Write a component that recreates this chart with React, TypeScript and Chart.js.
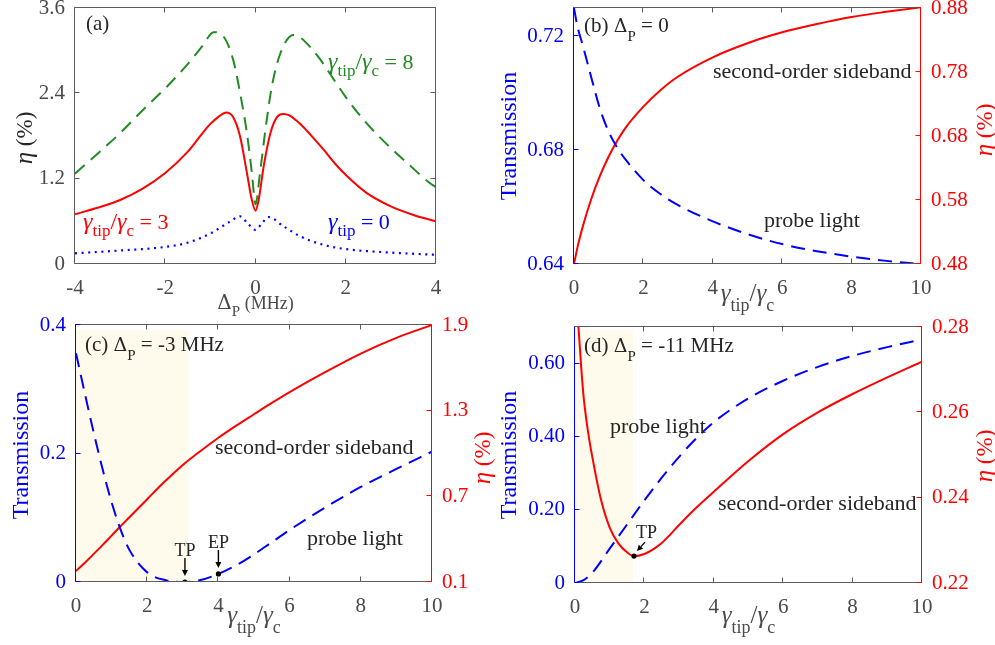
import React, { useEffect, useRef } from "react";
import { Chart, registerables } from "chart.js";

Chart.register(...registerables);

// ---------------- data ----------------
// (a) eta vs Delta_P
const aXTicks = [-4, -2, 0, 2, 4];
const aXTickLabels = ["-4", "-2", "0", "2", "4"];
const aYTicks = [0, 1.2, 2.4, 3.6];
const aYTickLabels = ["0", "1.2", "2.4", "3.6"];
const aGamma8X = [-4, -3.45, -3, -2.49, -1.97, -1.45, -1.16, -0.93, -0.71, -0.49, -0.34, -0.19, -0.08, 0, 0.1, 0.21, 0.36, 0.55, 0.84, 1.0, 1.2, 1.43, 1.73, 2.02, 2.46, 3, 3.43, 3.84, 4];
const aGamma8Y = [1.27, 1.58, 1.84, 2.17, 2.49, 2.85, 3.08, 3.26, 3.2, 2.86, 2.4, 1.84, 1.28, 0.84, 1.28, 1.84, 2.49, 2.96, 3.22, 3.18, 3.06, 2.88, 2.6, 2.33, 1.98, 1.63, 1.38, 1.15, 1.08];
const aGamma3X = [-4, -3.5, -3, -2.5, -2, -1.5, -1.2, -1, -0.8, -0.65, -0.5, -0.34, -0.19, -0.08, 0, 0.07, 0.18, 0.33, 0.48, 0.62, 0.75, 0.9, 1.07, 1.3, 1.52, 1.75, 2.02, 2.46, 3, 3.5, 4];
const aGamma3Y = [0.7, 0.79, 0.9, 1.06, 1.28, 1.58, 1.82, 1.97, 2.08, 2.13, 2.07, 1.79, 1.28, 0.9, 0.75, 0.9, 1.37, 1.84, 2.07, 2.11, 2.09, 2.02, 1.92, 1.76, 1.6, 1.42, 1.24, 1.0, 0.81, 0.69, 0.6];
const aGamma0X = [-4, -3, -2, -1.5, -1, -0.58, -0.34, -0.16, 0, 0.14, 0.29, 0.62, 0.99, 1.5, 2, 3, 4];
const aGamma0Y = [0.15, 0.19, 0.24, 0.3, 0.43, 0.59, 0.67, 0.56, 0.48, 0.57, 0.66, 0.53, 0.39, 0.27, 0.21, 0.16, 0.13];

// shared x ticks for (b)(c)(d)
const gXTicks = [0, 2, 4, 6, 8, 10];
const gXTickLabels = ["0", "2", "4", "6", "8", "10"];

// (b) Delta_P = 0
const bX = [0, 0.1, 0.25, 0.5, 0.75, 1, 1.25, 1.5, 2, 2.5, 3, 4, 5, 6, 7, 8, 9, 10];
const bProbe = [0.73, 0.7235, 0.717, 0.7055, 0.6945, 0.6865, 0.6808, 0.6765, 0.6695, 0.6645, 0.6607, 0.655, 0.6505, 0.647, 0.6445, 0.6426, 0.6411, 0.64];
const bSideband = [0.48, 0.506, 0.538, 0.582, 0.618, 0.648, 0.673, 0.694, 0.726, 0.752, 0.773, 0.803, 0.825, 0.842, 0.855, 0.866, 0.874, 0.881];
const bLeftTicks = [0.64, 0.68, 0.72];
const bLeftTickLabels = ["0.64", "0.68", "0.72"];
const bRightTicks = [0.48, 0.58, 0.68, 0.78, 0.88];
const bRightTickLabels = ["0.48", "0.58", "0.68", "0.78", "0.88"];

// (c) Delta_P = -3 MHz
const cX = [0, 0.25, 0.5, 0.75, 1, 1.25, 1.5, 2, 2.5, 3, 3.5, 4, 4.5, 5, 5.5, 6, 7, 8, 9, 10];
const cProbe = [0.356, 0.293, 0.232, 0.175, 0.124, 0.082, 0.05, 0.015, 0.003, 0.0, 0.003, 0.0125, 0.026, 0.043, 0.062, 0.081, 0.116, 0.148, 0.176, 0.203];
const cSideband = [0.177, 0.235, 0.297, 0.36, 0.425, 0.49, 0.553, 0.68, 0.805, 0.92, 1.018, 1.11, 1.195, 1.275, 1.354, 1.43, 1.57, 1.7, 1.81, 1.9];
const cMarkX = [3.06, 4];
const cMarkY = [0, 0.0125];
const cMarkLabels = ["TP", "EP"];
const cShadeX = [0, 3.17];
const cShadeY = [0.392, 0.392];
const cLeftTicks = [0, 0.2, 0.4];
const cLeftTickLabels = ["0", "0.2", "0.4"];
const cRightTicks = [0.1, 0.7, 1.3, 1.9];
const cRightTickLabels = ["0.1", "0.7", "1.3", "1.9"];

// (d) Delta_P = -11 MHz
const dProbeX = [0, 0.25, 0.5, 1, 1.5, 2, 2.5, 3, 3.5, 4, 5, 6, 7, 8, 9, 10];
const dProbe = [0, 0.008, 0.028, 0.094, 0.16, 0.226, 0.288, 0.345, 0.396, 0.44, 0.505, 0.553, 0.591, 0.621, 0.645, 0.666];
const dSideX = [0.1, 0.175, 0.25, 0.375, 0.5, 0.75, 1, 1.25, 1.5, 1.7, 2, 2.25, 2.5, 2.75, 3, 3.5, 4, 5, 6, 7, 8, 9, 10];
const dSideband = [0.28, 0.271, 0.2635, 0.2555, 0.2495, 0.2395, 0.233, 0.2293, 0.2272, 0.2263, 0.2268, 0.2279, 0.2294, 0.2314, 0.2336, 0.2377, 0.2414, 0.2486, 0.2549, 0.26, 0.2643, 0.2682, 0.2719];
const dMarkX = [1.7];
const dMarkY = [0.2263];
const dShadeX = [0, 1.68];
const dShadeY = [0.692, 0.692];
const dLeftTicks = [0, 0.2, 0.4, 0.6];
const dLeftTickLabels = ["0", "0.20", "0.40", "0.60"];
const dRightTicks = [0.22, 0.24, 0.26, 0.28];
const dRightTickLabels = ["0.22", "0.24", "0.26", "0.28"];

// ---------------- style ----------------
const SERIF = "'Liberation Serif', 'Times New Roman', Times, serif";
const SYMBOL = "'DejaVu Serif', serif";
const INK = "#262626";
const AXIS = "#5c5c5c";
const TICKTXT = "#4a4a4a";
const BLUE = "#0000ff";
const RED = "#ff0000";
const GREEN = "#238b23";
const SHADE = "#fefbec";
const TICK_FONT = 21;

const W = 995;
const H = 645;
const WL = 70;
const WR = 70;
const HX = 40;

type Area = { L: number; R: number; T: number; B: number };
const areaA: Area = { L: 75, R: 436, T: 8, B: 264 };
const areaB: Area = { L: 574, R: 921, T: 8, B: 264 };
const areaC: Area = { L: 76, R: 432, T: 325, B: 582 };
const areaD: Area = { L: 575, R: 922, T: 327, B: 583 };

const pts = (xs: number[], ys: number[]) => xs.map((x, i) => ({ x, y: ys[i] }));

type Seg = { t: string; size: number; dy?: number; italic?: boolean; family?: string };

function segFont(s: Seg) {
  return `${s.italic ? "italic " : ""}${s.size}px ${s.family || SERIF}`;
}

function drawRich(ctx: CanvasRenderingContext2D, segs: Seg[], x: number, y: number, align: string, color: string) {
  ctx.save();
  ctx.fillStyle = color;
  ctx.textBaseline = "alphabetic";
  ctx.textAlign = "left";
  let w = 0;
  for (const s of segs) {
    ctx.font = segFont(s);
    w += ctx.measureText(s.t).width;
  }
  let cx = align === "center" ? x - w / 2 : align === "right" ? x - w : x;
  for (const s of segs) {
    ctx.font = segFont(s);
    ctx.fillText(s.t, cx, y + (s.dy || 0));
    cx += ctx.measureText(s.t).width;
  }
  ctx.restore();
}

function drawRotated(ctx: CanvasRenderingContext2D, segs: Seg[], cx: number, cy: number, color: string) {
  ctx.save();
  ctx.translate(cx, cy);
  ctx.rotate(-Math.PI / 2);
  drawRich(ctx, segs, 0, segs[0].size * 0.33, "center", color);
  ctx.restore();
}

function gammaRatio(size: number, sub: number, dy: number): Seg[] {
  return [
    { t: "γ", size, italic: true },
    { t: "tip", size: sub, dy },
    { t: "/", size },
    { t: "γ", size, italic: true },
    { t: "c", size: sub, dy },
  ];
}

function arrow(ctx: CanvasRenderingContext2D, x1: number, y1: number, x2: number, y2: number) {
  const a = Math.atan2(y2 - y1, x2 - x1);
  const hl = 6;
  const hw = 3;
  const c = Math.cos(a);
  const s = Math.sin(a);
  ctx.save();
  ctx.strokeStyle = "#000";
  ctx.fillStyle = "#000";
  ctx.lineWidth = 1.4;
  ctx.beginPath();
  ctx.moveTo(x1, y1);
  ctx.lineTo(x2 - hl * c, y2 - hl * s);
  ctx.stroke();
  ctx.beginPath();
  ctx.moveTo(x2, y2);
  ctx.lineTo(x2 - hl * c + hw * s, y2 - hl * s - hw * c);
  ctx.lineTo(x2 - hl * c - hw * s, y2 - hl * s + hw * c);
  ctx.closePath();
  ctx.fill();
  ctx.restore();
}

function drawFrame(
  chart: any,
  xTicks: number[],
  leftTicks: number[],
  rightTicks: number[],
  leftColor: string,
  rightColor: string,
  rightId: string
) {
  const ctx: CanvasRenderingContext2D = chart.ctx;
  const { left, right, top, bottom } = chart.chartArea;
  const xs = chart.scales.x;
  const yl = chart.scales.y;
  const yr = chart.scales[rightId];
  const l = Math.round(left) - 0.5;
  const r = Math.round(right) - 0.5;
  const t = Math.round(top) - 0.5;
  const b = Math.round(bottom) - 0.5;
  const TL = 5;
  ctx.save();
  ctx.lineWidth = 1;
  ctx.strokeStyle = AXIS;
  ctx.beginPath();
  ctx.moveTo(l, t);
  ctx.lineTo(r, t);
  ctx.moveTo(l, b);
  ctx.lineTo(r, b);
  for (const v of xTicks) {
    const px = Math.round(xs.getPixelForValue(v)) - 0.5;
    ctx.moveTo(px, b);
    ctx.lineTo(px, b - TL);
    ctx.moveTo(px, t);
    ctx.lineTo(px, t + TL);
  }
  ctx.stroke();
  ctx.strokeStyle = leftColor;
  ctx.beginPath();
  ctx.moveTo(l, t);
  ctx.lineTo(l, b);
  for (const v of leftTicks) {
    const py = Math.round(yl.getPixelForValue(v)) - 0.5;
    ctx.moveTo(l, py);
    ctx.lineTo(l + TL, py);
  }
  ctx.stroke();
  ctx.strokeStyle = rightColor;
  ctx.beginPath();
  ctx.moveTo(r, t);
  ctx.lineTo(r, b);
  for (const v of rightTicks) {
    const py = Math.round(yr.getPixelForValue(v)) - 0.5;
    ctx.moveTo(r, py);
    ctx.lineTo(r - TL, py);
  }
  ctx.stroke();
  ctx.restore();
}

function xScale(min: number, max: number, ticks: number[], labels: string[]) {
  return {
    type: "linear",
    position: "bottom",
    min,
    max,
    afterBuildTicks: (s: any) => {
      s.ticks = ticks.map((v) => ({ value: v }));
    },
    afterFit: (s: any) => {
      s.height = HX;
      s.paddingLeft = 0;
      s.paddingRight = 0;
    },
    grid: { display: false, drawTicks: false },
    border: { display: false },
    ticks: {
      color: TICKTXT,
      font: { family: SERIF, size: TICK_FONT },
      padding: 12,
      maxRotation: 0,
      autoSkip: false,
      callback: (_v: any, i: number) => labels[i],
    },
  };
}

function yScale(min: number, max: number, ticks: number[], labels: string[], color: string, position: string) {
  return {
    type: "linear",
    position,
    min,
    max,
    afterBuildTicks: (s: any) => {
      s.ticks = ticks.map((v) => ({ value: v }));
    },
    afterFit: (s: any) => {
      s.width = position === "left" ? WL : WR;
      s.paddingTop = 0;
      s.paddingBottom = 0;
    },
    grid: { display: false, drawTicks: false },
    border: { display: false },
    ticks: {
      color,
      font: { family: SERIF, size: TICK_FONT },
      padding: 10,
      autoSkip: false,
      callback: (_v: any, i: number) => labels[i],
    },
  };
}

function padding(a: Area, hasRight: boolean) {
  return {
    left: a.L - WL,
    right: W - a.R - (hasRight ? WR : 0),
    top: a.T,
    bottom: H - a.B - HX,
  };
}

function lineDs(data: any[], color: string, dash: number[], yAxisID: string, width = 2) {
  return {
    data,
    borderColor: color,
    borderWidth: width,
    borderDash: dash,
    borderCapStyle: "butt",
    pointRadius: 0,
    cubicInterpolationMode: "monotone",
    fill: false,
    yAxisID,
    order: 1,
  };
}

function markDs(data: any[], yAxisID: string) {
  return {
    data,
    showLine: false,
    pointRadius: 2.6,
    pointBackgroundColor: "#000",
    pointBorderWidth: 0,
    yAxisID,
    order: 0,
  };
}

function shadeDs(data: any[]) {
  return {
    data,
    borderWidth: 0,
    pointRadius: 0,
    backgroundColor: SHADE,
    fill: "origin",
    tension: 0,
    yAxisID: "y",
    order: 5,
  };
}

function baseOptions(a: Area, hasRight: boolean, scales: any) {
  return {
    responsive: false,
    maintainAspectRatio: false,
    devicePixelRatio: 1,
    animation: false,
    events: [],
    layout: { padding: padding(a, hasRight), autoPadding: false },
    plugins: { legend: { display: false }, tooltip: { enabled: false }, title: { display: false } },
    scales,
  };
}

const eta: Seg[] = [
  { t: "η", size: 25, italic: true },
  { t: " (%)", size: 23 },
];
const transmission: Seg[] = [{ t: "Transmission", size: 24 }];

function panelA(): any {
  return {
    type: "line",
    data: {
      datasets: [
        lineDs(pts(aGamma8X, aGamma8Y), GREEN, [13, 8], "y"),
        lineDs(pts(aGamma3X, aGamma3Y), RED, [], "y"),
        lineDs(pts(aGamma0X, aGamma0Y), BLUE, [2, 4.6], "y", 2.2),
      ],
    },
    options: baseOptions(areaA, false, {
      x: xScale(-4, 4, aXTicks, aXTickLabels),
      y: yScale(0, 3.6, aYTicks, aYTickLabels, TICKTXT, "left"),
    }),
    plugins: [
      {
        id: "decorA",
        afterDatasetsDraw(chart: any) {
          const ctx = chart.ctx;
          drawFrame(chart, aXTicks, aYTicks, aYTicks, AXIS, AXIS, "y");
          drawRich(ctx, [{ t: "(a)", size: 21 }], 86, 30, "left", INK);
          drawRich(ctx, [...gammaRatio(24, 17, 7), { t: " = 8", size: 22 }], 328, 69, "left", GREEN);
          drawRich(ctx, [...gammaRatio(24, 17, 7), { t: " = 3", size: 22 }], 83, 229, "left", RED);
          drawRich(
            ctx,
            [
              { t: "γ", size: 24, italic: true },
              { t: "tip", size: 17, dy: 7 },
              { t: " = 0", size: 22 },
            ],
            328,
            229,
            "left",
            BLUE
          );
          const { left, right } = chart.chartArea;
          drawRich(
            ctx,
            [
              { t: "Δ", size: 20, family: SYMBOL },
              { t: "P", size: 15, dy: 7 },
              { t: " (MHz)", size: 18 },
            ],
            (left + right) / 2,
            309,
            "center",
            TICKTXT
          );
          drawRotated(ctx, eta, 24, 138, INK);
        },
      },
    ],
  };
}

function panelB(): any {
  return {
    type: "line",
    data: {
      datasets: [
        lineDs(pts(bX, bProbe), BLUE, [14, 8], "y"),
        lineDs(pts(bX, bSideband), RED, [], "y2"),
      ],
    },
    options: baseOptions(areaB, true, {
      x: xScale(0, 10, gXTicks, gXTickLabels),
      y: yScale(0.64, 0.73, bLeftTicks, bLeftTickLabels, BLUE, "left"),
      y2: yScale(0.48, 0.88, bRightTicks, bRightTickLabels, RED, "right"),
    }),
    plugins: [
      {
        id: "decorB",
        afterDatasetsDraw(chart: any) {
          const ctx = chart.ctx;
          drawFrame(chart, gXTicks, bLeftTicks, bRightTicks, BLUE, RED, "y2");
          drawRich(
            ctx,
            [
              { t: "(b) ", size: 21 },
              { t: "Δ", size: 19, family: SYMBOL },
              { t: "P", size: 15, dy: 9 },
              { t: " = 0", size: 21 },
            ],
            584,
            32,
            "left",
            INK
          );
          drawRich(ctx, [{ t: "second-order sideband", size: 22 }], 713, 78, "left", INK);
          drawRich(ctx, [{ t: "probe light", size: 22 }], 764, 227, "left", INK);
          const { left, right } = chart.chartArea;
          drawRich(ctx, gammaRatio(25, 18, 10), (left + right) / 2, 301, "center", TICKTXT);
          drawRotated(ctx, transmission, 508, 136, BLUE);
          drawRotated(ctx, eta, 984, 130, RED);
        },
      },
    ],
  };
}

function panelC(): any {
  return {
    type: "line",
    data: {
      datasets: [
        markDs(pts(cMarkX, cMarkY), "y"),
        lineDs(pts(cX, cProbe), BLUE, [14, 8], "y"),
        lineDs(pts(cX, cSideband), RED, [], "y2"),
        shadeDs(pts(cShadeX, cShadeY)),
      ],
    },
    options: baseOptions(areaC, true, {
      x: xScale(0, 10, gXTicks, gXTickLabels),
      y: yScale(0, 0.4, cLeftTicks, cLeftTickLabels, BLUE, "left"),
      y2: yScale(0.1, 1.9, cRightTicks, cRightTickLabels, RED, "right"),
    }),
    plugins: [
      {
        id: "decorC",
        afterDatasetsDraw(chart: any) {
          const ctx = chart.ctx;
          drawFrame(chart, gXTicks, cLeftTicks, cRightTicks, BLUE, RED, "y2");
          const xs = chart.scales.x;
          const ys = chart.scales.y;
          cMarkX.forEach((mx, i) => {
            const px = xs.getPixelForValue(mx);
            const py = ys.getPixelForValue(cMarkY[i]);
            arrow(ctx, px, py - 24, px, py - 6);
            drawRich(ctx, [{ t: cMarkLabels[i], size: 18 }], px, py - 26, "center", INK);
          });
          drawRich(
            ctx,
            [
              { t: "(c) ", size: 21 },
              { t: "Δ", size: 19, family: SYMBOL },
              { t: "P", size: 15, dy: 9 },
              { t: " = -3 MHz", size: 21 },
            ],
            85,
            351,
            "left",
            INK
          );
          drawRich(ctx, [{ t: "second-order sideband", size: 22 }], 215, 454, "left", INK);
          drawRich(ctx, [{ t: "probe light", size: 22 }], 307, 545, "left", INK);
          const { left, right } = chart.chartArea;
          drawRich(ctx, gammaRatio(25, 18, 10), (left + right) / 2, 623, "center", TICKTXT);
          drawRotated(ctx, transmission, 20, 455, BLUE);
          drawRotated(ctx, eta, 482, 458, RED);
        },
      },
    ],
  };
}

function panelD(): any {
  return {
    type: "line",
    data: {
      datasets: [
        markDs(pts(dMarkX, dMarkY), "y2"),
        lineDs(pts(dProbeX, dProbe), BLUE, [14, 8], "y"),
        lineDs(pts(dSideX, dSideband), RED, [], "y2"),
        shadeDs(pts(dShadeX, dShadeY)),
      ],
    },
    options: baseOptions(areaD, true, {
      x: xScale(0, 10, gXTicks, gXTickLabels),
      y: yScale(0, 0.7, dLeftTicks, dLeftTickLabels, BLUE, "left"),
      y2: yScale(0.22, 0.28, dRightTicks, dRightTickLabels, RED, "right"),
    }),
    plugins: [
      {
        id: "decorD",
        afterDatasetsDraw(chart: any) {
          const ctx = chart.ctx;
          drawFrame(chart, gXTicks, dLeftTicks, dRightTicks, BLUE, RED, "y2");
          const px = chart.scales.x.getPixelForValue(dMarkX[0]);
          const py = chart.scales.y2.getPixelForValue(dMarkY[0]);
          arrow(ctx, px + 11, py - 14, px + 3, py - 5);
          drawRich(ctx, [{ t: "TP", size: 18 }], px + 2, py - 18, "left", INK);
          drawRich(
            ctx,
            [
              { t: "(d) ", size: 21 },
              { t: "Δ", size: 19, family: SYMBOL },
              { t: "P", size: 15, dy: 9 },
              { t: " = -11 MHz", size: 21 },
            ],
            584,
            352,
            "left",
            INK
          );
          drawRich(ctx, [{ t: "probe light", size: 22 }], 610, 433, "left", INK);
          drawRich(ctx, [{ t: "second-order sideband", size: 22 }], 718, 510, "left", INK);
          const { left, right } = chart.chartArea;
          drawRich(ctx, gammaRatio(25, 18, 10), (left + right) / 2, 623, "center", TICKTXT);
          drawRotated(ctx, transmission, 508, 455, BLUE);
          drawRotated(ctx, eta, 984, 456, RED);
        },
      },
    ],
  };
}

const PANELS = [panelA, panelB, panelC, panelD];

export default function App() {
  const r0 = useRef<HTMLCanvasElement>(null);
  const r1 = useRef<HTMLCanvasElement>(null);
  const r2 = useRef<HTMLCanvasElement>(null);
  const r3 = useRef<HTMLCanvasElement>(null);
  const refs = [r0, r1, r2, r3];

  useEffect(() => {
    document.body.style.margin = "0";
    const charts = PANELS.map((make, i) => new Chart(refs[i].current as HTMLCanvasElement, make()));
    return () => charts.forEach((c) => c.destroy());
  }, []);

  return (
    <div style={{ position: "relative", width: W, height: H, background: "#ffffff" }}>
      {refs.map((r, i) => (
        <canvas
          key={i}
          ref={r}
          width={W}
          height={H}
          style={{ position: "absolute", left: 0, top: 0, width: W, height: H }}
        />
      ))}
    </div>
  );
}
